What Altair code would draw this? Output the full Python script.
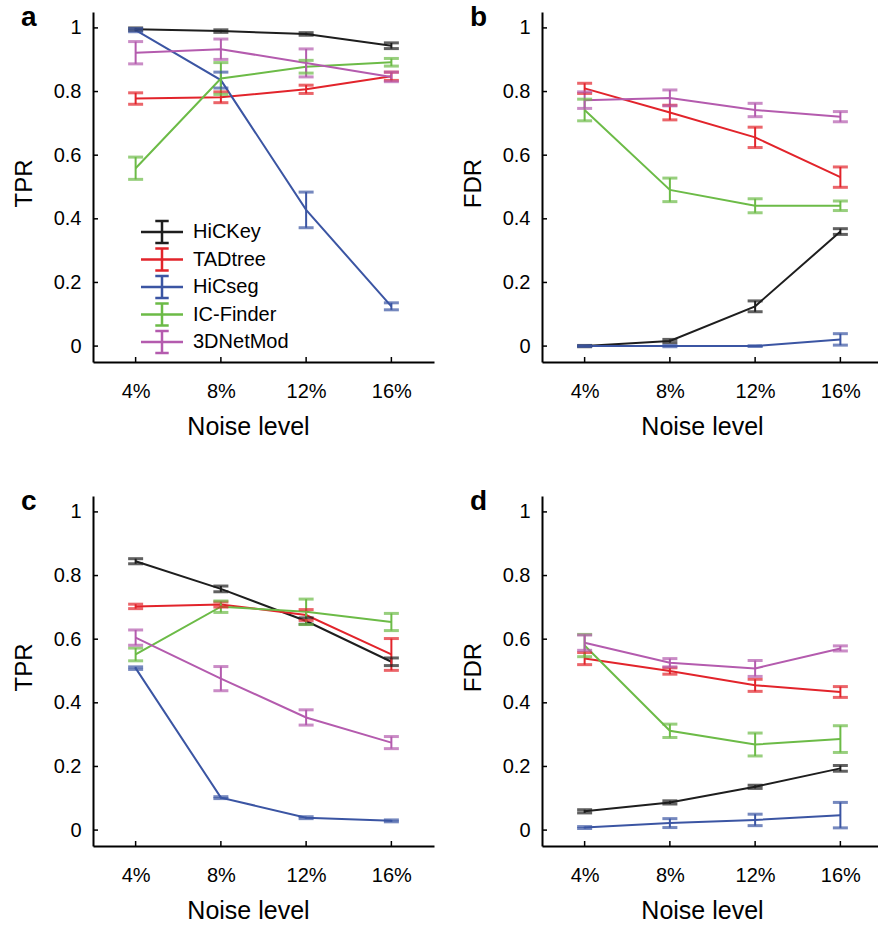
import altair as alt
import pandas as pd

methods = ["HiCKey", "TADtree", "HiCseg", "IC-Finder", "3DNetMod"]
colors = ["#1e1e1e", "#e2242b", "#3b55a3", "#6cbb47", "#b45bae"]
noise_levels = [4, 8, 12, 16]
noise_labels = ["4%", "8%", "12%", "16%"]
y_ticks = [0, 0.2, 0.4, 0.6, 0.8, 1]
y_tick_labels = ["0", "0.2", "0.4", "0.6", "0.8", "1"]

# Panel a: TPR
a_mean = {
    "HiCKey": [0.996, 0.990, 0.981, 0.944],
    "TADtree": [0.778, 0.782, 0.807, 0.848],
    "HiCseg": [0.993, 0.836, 0.428, 0.125],
    "IC-Finder": [0.559, 0.841, 0.878, 0.892],
    "3DNetMod": [0.922, 0.933, 0.890, 0.846],
}
a_err = {
    "HiCKey": [0.004, 0.004, 0.004, 0.009],
    "TADtree": [0.018, 0.017, 0.013, 0.013],
    "HiCseg": [0.005, 0.025, 0.056, 0.011],
    "IC-Finder": [0.035, 0.050, 0.020, 0.012],
    "3DNetMod": [0.035, 0.032, 0.044, 0.015],
}
# Panel b: FDR
b_mean = {
    "HiCKey": [0.0, 0.016, 0.125, 0.360],
    "TADtree": [0.810, 0.734, 0.656, 0.531],
    "HiCseg": [0.0, 0.0, 0.0, 0.021],
    "IC-Finder": [0.742, 0.491, 0.441, 0.441],
    "3DNetMod": [0.773, 0.780, 0.742, 0.721],
}
b_err = {
    "HiCKey": [0.002, 0.005, 0.017, 0.009],
    "TADtree": [0.016, 0.023, 0.032, 0.032],
    "HiCseg": [0.001, 0.002, 0.001, 0.018],
    "IC-Finder": [0.034, 0.037, 0.022, 0.015],
    "3DNetMod": [0.026, 0.025, 0.021, 0.016],
}
# Panel c: TPR
c_mean = {
    "HiCKey": [0.845, 0.758, 0.657, 0.529],
    "TADtree": [0.703, 0.709, 0.676, 0.552],
    "HiCseg": [0.509, 0.102, 0.039, 0.029],
    "IC-Finder": [0.552, 0.702, 0.686, 0.654],
    "3DNetMod": [0.605, 0.476, 0.354, 0.275],
}
c_err = {
    "HiCKey": [0.008, 0.009, 0.010, 0.012],
    "TADtree": [0.007, 0.008, 0.017, 0.050],
    "HiCseg": [0.004, 0.003, 0.003, 0.003],
    "IC-Finder": [0.020, 0.018, 0.040, 0.027],
    "3DNetMod": [0.024, 0.038, 0.024, 0.019],
}
# Panel d: FDR
d_mean = {
    "HiCKey": [0.059, 0.087, 0.136, 0.194],
    "TADtree": [0.539, 0.500, 0.455, 0.434],
    "HiCseg": [0.008, 0.022, 0.032, 0.047],
    "IC-Finder": [0.580, 0.312, 0.269, 0.286],
    "3DNetMod": [0.589, 0.526, 0.508, 0.571],
}
d_err = {
    "HiCKey": [0.005, 0.005, 0.005, 0.009],
    "TADtree": [0.019, 0.010, 0.019, 0.017],
    "HiCseg": [0.003, 0.014, 0.018, 0.040],
    "IC-Finder": [0.035, 0.021, 0.036, 0.042],
    "3DNetMod": [0.024, 0.013, 0.025, 0.008],
}

FONT = "Liberation Sans"
H = 350
# legend glyph: horizontal line with a capped vertical error bar
LEGEND_PATH = "M-3.82,0H3.82M0,-2V2M-1.22,-2H1.22M-1.22,2H1.22"


def label_expr(vals, labels):
    return "%s[indexof(%s, datum.value)]" % (
        "[" + ",".join("'%s'" % l for l in labels) + "]",
        "[" + ",".join(str(v) for v in vals) + "]",
    )


def panel(mean, err, ytitle, letter, width, title_x, show_legend):
    rows, caps = [], []
    for m in methods:
        for i, n in enumerate(noise_levels):
            v, e = mean[m][i], err[m][i]
            rows.append(dict(method=m, noise=n, value=v, lo=v - e, hi=v + e))
            caps.append(dict(method=m, noise=n, value=v - e))
            caps.append(dict(method=m, noise=n, value=v + e))
    df = pd.DataFrame(rows)
    cdf = pd.DataFrame(caps)

    xmax = 2 + 16 * width / 341.0
    xscale = alt.Scale(domain=[2, xmax], nice=False, zero=False)
    yscale = alt.Scale(domain=[-0.05, 1.05], nice=False, zero=False)
    cscale = alt.Scale(domain=methods, range=colors)

    xaxis = alt.Axis(
        values=noise_levels,
        labelExpr=label_expr(noise_levels, noise_labels),
        title="Noise level",
        titleX=title_x,
        titleFontSize=25,
        labelPadding=19,
        titlePadding=13,
    )
    yaxis = alt.Axis(
        values=y_ticks,
        labelExpr=label_expr(y_ticks, y_tick_labels),
        title=ytitle,
        titleY=171,
        labelPadding=12,
        titlePadding=17,
    )

    if show_legend:
        leg = alt.Legend(
            title=None,
            orient="none",
            legendX=59,
            legendY=210,
            symbolType=LEGEND_PATH,
            symbolSize=121,
            symbolStrokeWidth=2.5,
            labelFont=FONT,
            labelFontSize=20,
            labelColor="black",
            labelOffset=21,
            rowPadding=-4.5,
            padding=0,
        )
    else:
        leg = None

    X = alt.X("noise:Q", scale=xscale, axis=xaxis)
    Y = alt.Y("value:Q", scale=yscale, axis=yaxis)

    lines = alt.Chart(df).mark_line(strokeWidth=2).encode(
        x=X, y=Y, color=alt.Color("method:N", scale=cscale, legend=leg),
    )
    bars = alt.Chart(df).mark_rule(strokeWidth=2).encode(
        x=X,
        y=alt.Y("lo:Q", scale=yscale, axis=yaxis),
        y2="hi:Q",
        color=alt.Color("method:N", legend=None),
    )
    capm = alt.Chart(cdf).mark_tick(orient="horizontal", size=15, thickness=3).encode(
        x=X, y=Y, color=alt.Color("method:N", legend=None),
    )
    ytk = alt.Chart(pd.DataFrame({"value": y_ticks})).mark_rule(color="black", strokeWidth=1.5).encode(
        y=Y, x=alt.value(0), x2=alt.value(5)
    )
    xtk = alt.Chart(pd.DataFrame({"noise": noise_levels})).mark_rule(color="black", strokeWidth=1.5).encode(
        x=X, y=alt.value(H), y2=alt.value(H - 5)
    )
    let = alt.Chart(pd.DataFrame({"l": [letter]})).mark_text(
        align="left", baseline="alphabetic", fontSize=28, fontWeight="bold", font=FONT, color="black"
    ).encode(text="l:N", x=alt.value(-72), y=alt.value(14))

    return alt.layer(lines, bars, capm, ytk, xtk, let).properties(width=width, height=H)


pa = panel(a_mean, a_err, "TPR", "a", 341, 155, True)
pb = panel(b_mean, b_err, "FDR", "b", 336, 160, False)
pc = panel(c_mean, c_err, "TPR", "c", 341, 155, False)
pd_ = panel(d_mean, d_err, "FDR", "d", 336, 160, False)

chart = (
    alt.concat(pa, pb, pc, pd_, columns=2, spacing={"row": 134, "column": 108}, bounds="flush")
    .resolve_scale(color="independent")
    .resolve_legend(color="independent")
    .properties(padding={"left": 12, "top": 4, "right": 0, "bottom": 0}, background="white")
    .configure_view(stroke=None)
    .configure_axis(
        grid=False,
        ticks=False,
        tickSize=0,
        domainColor="black",
        domainWidth=2,
        labelFont=FONT,
        labelFontSize=20,
        labelColor="black",
        titleFont=FONT,
        titleFontSize=24,
        titleFontWeight="normal",
        titleColor="black",
    )
)

chart.save("out.html", embed_options={"renderer": "svg", "actions": False})
